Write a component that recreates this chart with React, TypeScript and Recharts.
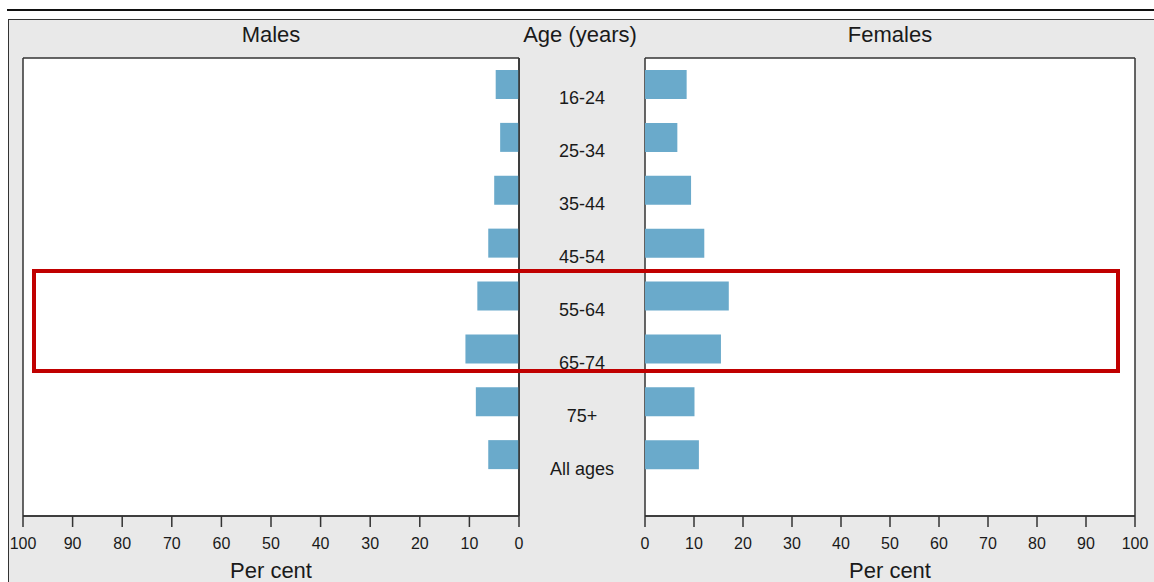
import React from 'react';
import { BarChart, Bar, XAxis, YAxis, CartesianGrid } from 'recharts';

const ageGroups = ['16-24', '25-34', '35-44', '45-54', '55-64', '65-74', '75+', 'All ages'];
const malesPct = [4.7, 3.8, 5.0, 6.2, 8.4, 10.8, 8.7, 6.2];
const femalesPct = [8.5, 6.6, 9.4, 12.1, 17.1, 15.5, 10.1, 11.0];
const percentTicks = [0, 10, 20, 30, 40, 50, 60, 70, 80, 90, 100];

const maleData = ageGroups.map((age, i) => ({ age, value: malesPct[i] }));
const femaleData = ageGroups.map((age, i) => ({ age, value: femalesPct[i] }));

const FONT = '"Liberation Sans", Arial, sans-serif';
const TEXT = '#1a1a1a';
const BAR = '#6aaacb';
const BORDER = '#333';
const lineStyle = { stroke: BORDER, strokeWidth: 1.5 };

const AgeTick = (props: any) => {
  const { x, y, payload } = props;
  return (
    <text x={x + 63} y={y + 14} textAnchor="middle" dominantBaseline="central" fontSize={18} fill={TEXT} fontFamily={FONT}>
      {payload.value}
    </text>
  );
};

const header = (text: string, cx: number) => (
  <div
    style={{
      position: 'absolute',
      left: cx - 100,
      top: 22,
      width: 200,
      textAlign: 'center',
      fontSize: 22,
      lineHeight: '26px',
      color: TEXT,
      fontFamily: FONT,
    }}
  >
    {text}
  </div>
);

// plot-frame lines derived from the chart's own offset
const frameH = (p: any) => [p.offset.top, p.offset.top + p.offset.height];
const frameV = (p: any) => [p.offset.left, p.offset.left + p.offset.width];

const Frame = () => (
  <CartesianGrid
    fill="#fff"
    stroke={BORDER}
    strokeWidth={1.5}
    horizontalCoordinatesGenerator={frameH}
    verticalCoordinatesGenerator={frameV}
  />
);

export default function App() {
  const tickStyle = { fill: TEXT, fontSize: 16, fontFamily: FONT };
  const perCent = { value: 'Per cent', position: 'insideBottom', offset: 4, fontSize: 22, fill: TEXT, fontFamily: FONT } as any;
  const yPad = { top: 0, bottom: 35 };
  return (
    <div
      style={{
        position: 'absolute',
        left: 0,
        top: 0,
        width: 1154,
        height: 582,
        background: '#fff',
        overflow: 'hidden',
        fontFamily: FONT,
      }}
    >
      <div style={{ position: 'absolute', left: 7, top: 9, width: 1150, height: 2, background: '#111' }} />
      <div
        style={{
          position: 'absolute',
          left: 8,
          top: 19,
          width: 1160,
          height: 600,
          background: '#e9e9e9',
          borderLeft: `1.5px solid ${BORDER}`,
          borderTop: `1.5px solid ${BORDER}`,
        }}
      />
      {header('Males', 271)}
      {header('Age (years)', 580)}
      {header('Females', 890)}

      <div style={{ position: 'absolute', left: 0, top: 0 }}>
        <BarChart
          width={645}
          height={582}
          data={maleData}
          layout="vertical"
          margin={{ top: 58, right: 0, bottom: 0, left: 23 }}
        >
          {Frame()}
          <XAxis
            type="number"
            domain={[0, 100]}
            reversed
            ticks={percentTicks}
            interval={0}
            height={66}
            axisLine={lineStyle}
            tickSize={11}
            tickMargin={11}
            tickLine={lineStyle}
            tick={tickStyle}
            label={perCent}
          />
          <YAxis
            type="category"
            dataKey="age"
            orientation="right"
            width={126}
            axisLine={lineStyle}
            tickLine={false}
            tickSize={0}
            tickMargin={0}
            padding={yPad}
            tick={<AgeTick />}
            interval={0}
          />
          <Bar dataKey="value" fill={BAR} barSize={29} isAnimationActive={false} />
        </BarChart>
      </div>

      <div style={{ position: 'absolute', left: 600, top: 0 }}>
        <BarChart
          width={554}
          height={582}
          data={femaleData}
          layout="vertical"
          margin={{ top: 58, right: 19, bottom: 0, left: 45 }}
        >
          {Frame()}
          <XAxis
            type="number"
            domain={[0, 100]}
            ticks={percentTicks}
            interval={0}
            height={66}
            axisLine={lineStyle}
            tickSize={11}
            tickMargin={11}
            tickLine={lineStyle}
            tick={tickStyle}
            label={perCent}
          />
          <YAxis
            type="category"
            dataKey="age"
            orientation="left"
            width={0}
            tick={false}
            tickLine={false}
            axisLine={lineStyle}
            padding={yPad}
          />
          <Bar dataKey="value" fill={BAR} barSize={29} isAnimationActive={false} />
        </BarChart>
      </div>

      <div
        style={{
          position: 'absolute',
          left: 32,
          top: 269,
          width: 1088,
          height: 104,
          boxSizing: 'border-box',
          border: '4px solid #c00000',
        }}
      />
    </div>
  );
}
